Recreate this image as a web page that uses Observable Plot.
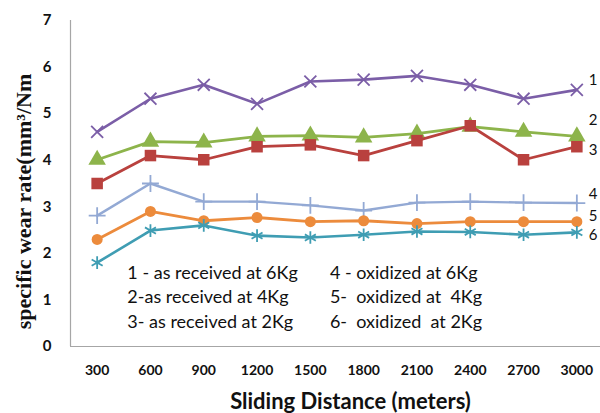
<!DOCTYPE html>
<html>
<head>
<meta charset="utf-8">
<script src="https://cdn.jsdelivr.net/npm/d3@7"></script>
<script src="https://cdn.jsdelivr.net/npm/@observablehq/plot@0.6"></script>
<style>
  html, body { margin: 0; padding: 0; background: #fff; }
  #chart { width: 600px; height: 413px; }
</style>
</head>
<body>
<div id="chart"></div>
<script>
const distances = [300, 600, 900, 1200, 1500, 1800, 2100, 2400, 2700, 3000];
const s1 = [4.61, 5.32, 5.62, 5.21, 5.69, 5.73, 5.81, 5.62, 5.32, 5.51];
const s2 = [4.01, 4.40, 4.38, 4.51, 4.53, 4.49, 4.57, 4.72, 4.61, 4.51];
const s3 = [3.50, 4.10, 4.01, 4.29, 4.33, 4.10, 4.42, 4.74, 4.01, 4.29];
const s4 = [2.81, 3.50, 3.11, 3.11, 3.03, 2.92, 3.09, 3.11, 3.09, 3.08];
const s5 = [2.30, 2.90, 2.70, 2.77, 2.68, 2.70, 2.64, 2.68, 2.68, 2.68];
const s6 = [1.80, 2.49, 2.60, 2.38, 2.34, 2.40, 2.47, 2.46, 2.40, 2.45];
const seriesNames = ["1", "2", "3", "4", "5", "6"];
const seriesLabelY = [5.71, 4.85, 4.21, 3.28, 2.79, 2.38];
const legendLeft = ["1 - as received at 6Kg", "2-as received at 4Kg", "3- as received at 2Kg"];
const legendRight = ["4 - oxidized at 6Kg", "5-  oxidized at  4Kg", "6-  oxidized  at 2Kg"];
const legendRowY = [1.57, 1.05, 0.52];
const legendColX = [470, 1610];
const yTicks = [0, 1, 2, 3, 4, 5, 6, 7];
const yTitle = "specific wear rate(mm\u00B3/Nm";
const xTitle = "Sliding Distance (meters)";

const values = [s1, s2, s3, s4, s5, s6];
const styles = [
  {color: "#7b5ea7", symbol: "times", filled: false, r: 5.5, sw: 2.6},
  {color: "#8db44b", symbol: "triangle", filled: true, r: 6.5, sw: 2.8},
  {color: "#b9413e", symbol: "square", filled: true, r: 6.5, sw: 2.8},
  {color: "#93a9d4", symbol: "plus", filled: false, r: 5.5, sw: 2.4},
  {color: "#ec8b3c", symbol: "circle", filled: true, r: 5.5, sw: 2.8},
  {color: "#3f9db3", symbol: "asterisk", filled: false, r: 6, sw: 2.6}
];

const marks = [
  Plot.ruleY([0], {stroke: "#a6a6a6", strokeWidth: 1.2}),
  Plot.ruleX([150], {y1: 0, y2: 7, stroke: "#a6a6a6", strokeWidth: 1.2}),
  Plot.axisY(yTicks, {tickSize: 0, tickPadding: 19, fontSize: 15, fontWeight: "bold", fontFamily: "Lato", fill: "#111"}),
  Plot.axisX(distances, {tickSize: 0, tickPadding: 19, fontSize: 14, fontWeight: "bold", fontFamily: "Lato", fill: "#111", tickFormat: d => String(d)})
];

values.forEach((vals, i) => {
  const st = styles[i];
  const rows = distances.map((d, j) => ({d, v: vals[j]}));
  marks.push(Plot.line(rows, {x: "d", y: "v", stroke: st.color, strokeWidth: st.sw}));
  marks.push(Plot.dot(rows, {
    x: "d", y: "v", symbol: () => st.symbol, r: st.r,
    fill: st.filled ? st.color : "none",
    stroke: st.color, strokeWidth: st.filled ? 0 : 1.8
  }));
});

const labelRows = seriesNames.map((n, i) => ({n, y: seriesLabelY[i]}));
marks.push(Plot.text(labelRows, {x: () => 3000, y: "y", text: "n", dx: 12, textAnchor: "start", fontSize: 15, fontFamily: "Lato", fill: "#111"}));

const legendRows = [];
legendLeft.forEach((t, i) => legendRows.push({t, x: legendColX[0], y: legendRowY[i]}));
legendRight.forEach((t, i) => legendRows.push({t, x: legendColX[1], y: legendRowY[i]}));
marks.push(Plot.text(legendRows, {x: "x", y: "y", text: "t", textAnchor: "start", fontSize: 18, fontFamily: "Lato", fill: "#111", style: "white-space: pre"}));

marks.push(Plot.text([yTitle], {frameAnchor: "left", textAnchor: "middle", lineAnchor: "middle", rotate: -90, dx: -47, dy: 18, fontSize: 22, fontWeight: "bold", fontFamily: "Liberation Serif", fill: "#111"}));
marks.push(Plot.text([xTitle], {frameAnchor: "bottom", dy: 62, dx: 15, fontSize: 22, fontWeight: "bold", fontFamily: "Lato", fill: "#111"}));

const chart = Plot.plot({
  width: 600,
  height: 413,
  marginTop: 20,
  marginBottom: 67,
  marginLeft: 70,
  marginRight: 0,
  x: {type: "linear", domain: [150, 3150], range: [70, 603], axis: null},
  y: {domain: [0, 7], range: [346, 20], axis: null},
  style: {background: "#fff", overflow: "visible"},
  marks
});
document.getElementById("chart").appendChild(chart);
</script>
</body>
</html>
